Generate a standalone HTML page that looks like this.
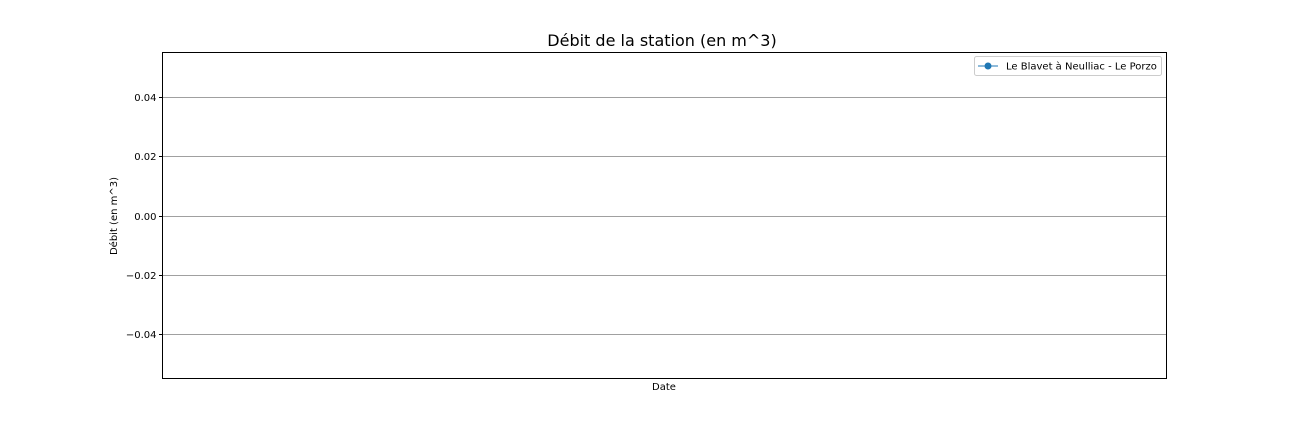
<!DOCTYPE html>
<html><head><meta charset="utf-8"><style>
body{margin:0;background:#fff;width:1296px;height:432px;overflow:hidden;font-family:"Liberation Sans","DejaVu Sans",sans-serif;}
</style></head><body>
<svg id="chart" width="1296" height="432" font-family="DejaVu Sans, Liberation Sans, sans-serif">
<text x="662" y="46" font-size="16" text-anchor="middle">Débit de la station (en m^3)</text>
<g id="grid"></g>
<rect x="162.5" y="52.5" width="1004" height="326" fill="none" stroke="#000" stroke-width="1"/>
<g id="yticks"></g>
<g id="series"></g>
<text x="664" y="390" font-size="10" text-anchor="middle">Date</text>
<text transform="translate(117,216) rotate(-90)" font-size="10" text-anchor="middle">Débit (en m^3)</text>
<g>
<rect x="974.5" y="56.5" width="187" height="19" rx="2" fill="#fff" stroke="#ccc"/>
<line x1="978" y1="66" x2="998" y2="66" stroke="#1f77b4" stroke-width="1"/>
<circle cx="988" cy="66" r="3.5" fill="#1f77b4"/>
<text x="1006" y="69.5" font-size="10">Le Blavet à Neulliac - Le Porzo</text>
</g>
</svg>
<script>
const yTickValues=[0.04,0.02,0.00,-0.02,-0.04];
const yTickLabels=["0.04","0.02","0.00","\u22120.02","\u22120.04"];
const dates=[];
const debits=[];
const yMin=-0.055,yMax=0.055,pTop=52.5,pBot=378.5,pLeft=162.5,pRight=1166.5;
function yS(v){return pBot-(v-yMin)/(yMax-yMin)*(pBot-pTop);}
const ns="http://www.w3.org/2000/svg";
const grid=document.getElementById('grid'),yt=document.getElementById('yticks');
yTickValues.forEach((v,i)=>{
 const y=Math.round(yS(v))+0.5;
 const g=document.createElementNS(ns,'line');
 g.setAttribute('x1',pLeft);g.setAttribute('x2',pRight);g.setAttribute('y1',y);g.setAttribute('y2',y);
 g.setAttribute('stroke','#808080');g.setAttribute('stroke-width','0.8');
 
 
 grid.appendChild(g);
 const t=document.createElementNS(ns,'line');
 t.setAttribute('x1',pLeft-3.5);t.setAttribute('x2',pLeft);t.setAttribute('y1',y);t.setAttribute('y2',y);
 t.setAttribute('stroke','#000');
 
 
 yt.appendChild(t);
 const l=document.createElementNS(ns,'text');
 l.setAttribute('x',pLeft-6);l.setAttribute('y',y+3.5);l.setAttribute('font-size','10');l.setAttribute('text-anchor','end');
 l.textContent=yTickLabels[i];
 
 
 yt.appendChild(l);
});
const s=document.getElementById('series');
debits.forEach((v,i)=>{
 const x=pLeft+(i+0.5)/Math.max(debits.length,1)*(pRight-pLeft);
 const c=document.createElementNS(ns,'circle');
 c.setAttribute('cx',x);c.setAttribute('cy',yS(v));c.setAttribute('r',3.5);c.setAttribute('fill','#1f77b4');
 
 
 s.appendChild(c);
});
</script>
</body></html>
